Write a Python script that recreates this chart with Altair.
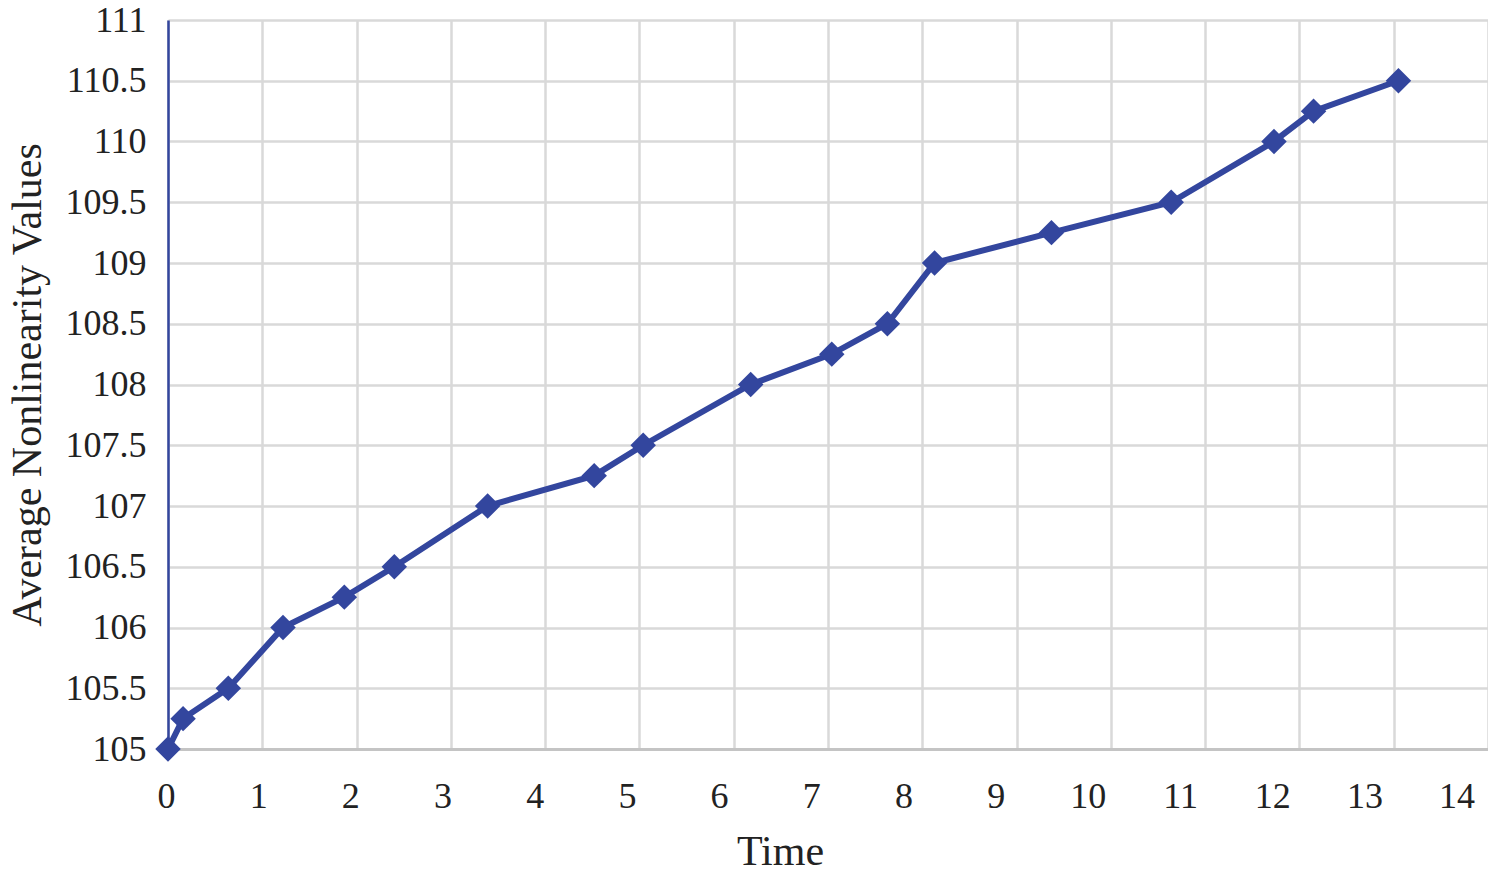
import altair as alt
import pandas as pd

time = [0.0, 0.16, 0.64, 1.22, 1.87, 2.40, 3.39, 4.52, 5.04, 6.18, 7.04, 7.63, 8.13, 9.37, 10.64, 11.73, 12.15, 13.05]
values = [105.0, 105.25, 105.5, 106.0, 106.25, 106.5, 107.0, 107.25, 107.5, 108.0, 108.25, 108.5, 109.0, 109.25, 109.5, 110.0, 110.25, 110.5]
x_ticks = list(range(0, 15))
y_ticks = [105 + 0.5 * i for i in range(13)]

df = pd.DataFrame({"Time": time, "Value": values})

FONT = "Liberation Serif"
BLUE = "#33469e"
TXT = "#222222"

x = alt.X(
    "Time:Q",
    scale=alt.Scale(domain=[0, 14], nice=False, zero=False),
    axis=alt.Axis(
        title="Time",
        values=x_ticks,
        format="d",
        grid=True,
        gridColor="#d9d9d9",
        gridWidth=2.5,
        domainColor="#c4c4c4",
        domainWidth=3,
        ticks=False,
        tickSize=0,
        labelFlush=False,
        labelPadding=30,
        labelFontSize=36,
        labelFont=FONT,
        labelColor=TXT,
        labelOffset=alt.ExprRef("-2-2.1*datum.value"),
        titleFont=FONT,
        titleFontSize=42,
        titleFontWeight="normal",
        titleColor=TXT,
        titlePadding=17,
        titleX=612,
        titleAlign="center",
    ),
)
y = alt.Y(
    "Value:Q",
    scale=alt.Scale(domain=[105, 111], nice=False, zero=False),
    axis=alt.Axis(
        title="Average Nonlinearity Values",
        values=y_ticks,
        format="~g",
        grid=True,
        gridColor="#d9d9d9",
        gridWidth=2.5,
        domainColor=BLUE,
        domainWidth=2.5,
        ticks=False,
        tickSize=0,
        labelFlush=False,
        labelPadding=22,
        labelFontSize=36,
        labelFont=FONT,
        labelColor=TXT,
        titleFont=FONT,
        titleFontSize=42,
        titleFontWeight="normal",
        titleColor=TXT,
        titlePadding=16,
    ),
)

line = alt.Chart(df).mark_line(color=BLUE, strokeWidth=6).encode(x=x, y=y)
pts = alt.Chart(df).mark_point(shape="diamond", filled=True, color=BLUE, opacity=1, size=650).encode(x=x, y=y)

chart = (
    alt.layer(line, pts)
    .properties(
        width=1320,
        height=729,
        autosize=alt.AutoSizeParams(type="none"),
        padding={"left": 160, "top": 12, "right": 0, "bottom": 120},
        background="white",
    )
    .configure_view(stroke=None)
)

chart.save("out.html", embed_options={"renderer": "svg", "actions": False})
